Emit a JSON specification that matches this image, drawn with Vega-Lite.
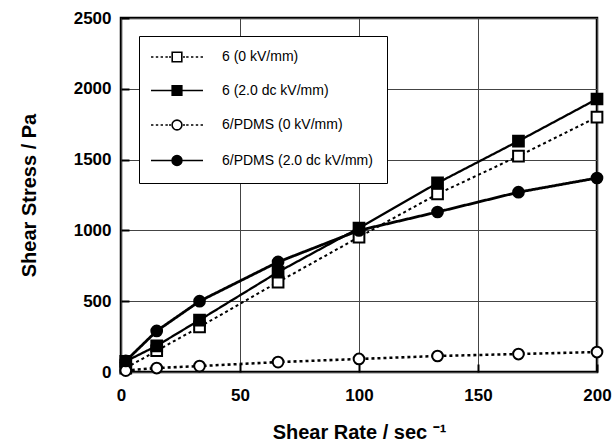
{
  "$schema": "https://vega.github.io/schema/vega-lite/v6.json",
  "width": 476,
  "height": 354,
  "autosize": {"type": "none"},
  "padding": {"left": 121, "top": 18, "right": 16, "bottom": 71},
  "background": "white",
  "config": {
    "view": {"stroke": "black", "strokeWidth": 2.5},
    "font": "Liberation Sans",
    "axis": {
      "labelFont": "Liberation Sans",
      "labelFontWeight": "bold",
      "labelFontSize": 17,
      "labelColor": "black",
      "titleFont": "Liberation Sans",
      "titleFontWeight": "bold",
      "titleFontSize": 20,
      "titleColor": "black",
      "gridColor": "#444444",
      "gridWidth": 1,
      "gridOpacity": 1,
      "domain": false,
      "tickColor": "black",
      "tickWidth": 2,
      "tickSize": -8
    },
    "legend": {
      "labelFont": "Liberation Sans",
      "labelFontSize": 14,
      "labelColor": "black"
    }
  },
  "data": {
    "values": [
      {"x": 2, "y": 28, "s": "6 (0 kV/mm)"},
      {"x": 15, "y": 150, "s": "6 (0 kV/mm)"},
      {"x": 33, "y": 318, "s": "6 (0 kV/mm)"},
      {"x": 66, "y": 635, "s": "6 (0 kV/mm)"},
      {"x": 100, "y": 953, "s": "6 (0 kV/mm)"},
      {"x": 133, "y": 1257, "s": "6 (0 kV/mm)"},
      {"x": 167, "y": 1525, "s": "6 (0 kV/mm)"},
      {"x": 200, "y": 1800, "s": "6 (0 kV/mm)"},
      {"x": 2, "y": 75, "s": "6 (2.0 dc kV/mm)"},
      {"x": 15, "y": 185, "s": "6 (2.0 dc kV/mm)"},
      {"x": 33, "y": 367, "s": "6 (2.0 dc kV/mm)"},
      {"x": 66, "y": 706, "s": "6 (2.0 dc kV/mm)"},
      {"x": 100, "y": 1017, "s": "6 (2.0 dc kV/mm)"},
      {"x": 133, "y": 1335, "s": "6 (2.0 dc kV/mm)"},
      {"x": 167, "y": 1631, "s": "6 (2.0 dc kV/mm)"},
      {"x": 200, "y": 1928, "s": "6 (2.0 dc kV/mm)"},
      {"x": 2, "y": 10, "s": "6/PDMS (0 kV/mm)"},
      {"x": 15, "y": 28, "s": "6/PDMS (0 kV/mm)"},
      {"x": 33, "y": 42, "s": "6/PDMS (0 kV/mm)"},
      {"x": 66, "y": 70, "s": "6/PDMS (0 kV/mm)"},
      {"x": 100, "y": 92, "s": "6/PDMS (0 kV/mm)"},
      {"x": 133, "y": 113, "s": "6/PDMS (0 kV/mm)"},
      {"x": 167, "y": 127, "s": "6/PDMS (0 kV/mm)"},
      {"x": 200, "y": 141, "s": "6/PDMS (0 kV/mm)"},
      {"x": 2, "y": 78, "s": "6/PDMS (2.0 dc kV/mm)"},
      {"x": 15, "y": 290, "s": "6/PDMS (2.0 dc kV/mm)"},
      {"x": 33, "y": 500, "s": "6/PDMS (2.0 dc kV/mm)"},
      {"x": 66, "y": 777, "s": "6/PDMS (2.0 dc kV/mm)"},
      {"x": 100, "y": 1000, "s": "6/PDMS (2.0 dc kV/mm)"},
      {"x": 133, "y": 1130, "s": "6/PDMS (2.0 dc kV/mm)"},
      {"x": 167, "y": 1270, "s": "6/PDMS (2.0 dc kV/mm)"},
      {"x": 200, "y": 1370, "s": "6/PDMS (2.0 dc kV/mm)"}
    ]
  },
  "encoding": {
    "x": {
      "field": "x", "type": "quantitative",
      "scale": {"domain": [0, 200], "nice": false, "zero": false},
      "axis": {"values": [0, 50, 100, 150, 200], "format": "d", "title": "Shear Rate / sec ⁻¹", "labelPadding": 23, "titlePadding": 19, "labelFlush": false}
    },
    "y": {
      "field": "y", "type": "quantitative",
      "scale": {"domain": [0, 2500], "nice": false},
      "axis": {"values": [0, 500, 1000, 1500, 2000, 2500], "format": "d", "title": "Shear Stress / Pa", "labelPadding": 18, "titlePadding": 34, "labelFlush": false}
    }
  },
  "layer": [
    {
      "mark": {"type": "line"},
      "encoding": {
        "detail": {"field": "s"},
        "color": {"value": "black"},
        "strokeDash": {
          "field": "s", "type": "nominal", "legend": null,
          "scale": {
            "domain": ["6 (0 kV/mm)", "6 (2.0 dc kV/mm)", "6/PDMS (0 kV/mm)", "6/PDMS (2.0 dc kV/mm)"],
            "range": [[3, 3], [1, 0], [3, 3], [1, 0]]
          }
        },
        "strokeWidth": {
          "field": "s", "type": "nominal", "legend": null,
          "scale": {
            "domain": ["6 (0 kV/mm)", "6 (2.0 dc kV/mm)", "6/PDMS (0 kV/mm)", "6/PDMS (2.0 dc kV/mm)"],
            "range": [2, 2.8, 2, 2.8]
          }
        }
      }
    },
    {
      "mark": {"type": "point", "filled": false, "stroke": "black", "strokeWidth": 2, "opacity": 1, "size": 115},
      "encoding": {
        "shape": {
          "field": "s", "type": "nominal", "legend": null,
          "scale": {
            "domain": ["6 (0 kV/mm)", "6 (2.0 dc kV/mm)", "6/PDMS (0 kV/mm)", "6/PDMS (2.0 dc kV/mm)"],
            "range": ["square", "square", "circle", "circle"]
          }
        },
        "fill": {
          "field": "s", "type": "nominal", "legend": null,
          "scale": {
            "domain": ["6 (0 kV/mm)", "6 (2.0 dc kV/mm)", "6/PDMS (0 kV/mm)", "6/PDMS (2.0 dc kV/mm)"],
            "range": ["white", "black", "white", "black"]
          }
        }
      }
    },
    {
      "transform": [{"filter": "false"}],
      "mark": {"type": "point", "filled": false, "strokeWidth": 1.6, "opacity": 1},
      "encoding": {
        "shape": {
          "field": "s", "type": "nominal", "title": null,
          "scale": {
            "domain": ["6 (0 kV/mm)", "6 (2.0 dc kV/mm)", "6/PDMS (0 kV/mm)", "6/PDMS (2.0 dc kV/mm)"],
            "range": [
              "M-4.33,0H-3.93M-3.53,0H-3.13M-2.73,0H-2.33M-1.93,0H-1.53M-1.33,0H-1.0M1.0,0H1.33M1.53,0H1.93M2.33,0H2.73M3.13,0H3.53M3.93,0H4.33M-0.8,-0.8H0.8V0.8H-0.8Z",
              "M-4.33,0H4.33M-0.8,-0.8H0.8V0.8H-0.8Z",
              "M-4.33,0H-3.93M-3.53,0H-3.13M-2.73,0H-2.33M-1.93,0H-1.53M-1.33,0H-1.0M1.0,0H1.33M1.53,0H1.93M2.33,0H2.73M3.13,0H3.53M3.93,0H4.33M0.82,0A0.82,0.82 0 1,1 -0.82,0A0.82,0.82 0 1,1 0.82,0Z",
              "M-4.33,0H4.33M0.82,0A0.82,0.82 0 1,1 -0.82,0A0.82,0.82 0 1,1 0.82,0Z"
            ]
          },
          "legend": {
            "orient": "top-left",
            "offset": 18,
            "fillColor": "white",
            "strokeColor": "black",
            "padding": 14,
            "rowPadding": 17.5,
            "symbolSize": 144,
            "symbolStrokeWidth": 1.6,
            "symbolOffset": 17,
            "labelOffset": 38
          }
        },
        "fill": {
          "field": "s", "type": "nominal", "title": null,
          "scale": {
            "domain": ["6 (0 kV/mm)", "6 (2.0 dc kV/mm)", "6/PDMS (0 kV/mm)", "6/PDMS (2.0 dc kV/mm)"],
            "range": ["white", "black", "white", "black"]
          }
        },
        "stroke": {
          "field": "s", "type": "nominal", "title": null,
          "scale": {
            "domain": ["6 (0 kV/mm)", "6 (2.0 dc kV/mm)", "6/PDMS (0 kV/mm)", "6/PDMS (2.0 dc kV/mm)"],
            "range": ["black", "black", "black", "black"]
          }
        }
      }
    }
  ],
  "resolve": {"scale": {"shape": "independent", "fill": "independent", "stroke": "independent"}}
}
